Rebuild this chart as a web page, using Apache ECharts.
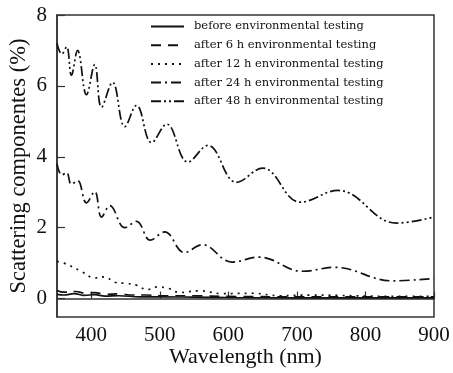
<!DOCTYPE html>
<html>
<head>
<meta charset="utf-8">
<script src="https://cdn.jsdelivr.net/npm/echarts@6/dist/echarts.min.js"></script>
<style>
  html, body { margin: 0; padding: 0; background: #fff; }
  #chart { width: 453px; height: 373px; }
</style>
</head>
<body>
<div id="chart"></div>
<script>
// Scattering components measured before and after environmental testing
const seriesNames = [
  'before environmental testing',
  'after 6 h environmental testing',
  'after 12 h environmental testing',
  'after 24 h environmental testing',
  'after 48 h environmental testing'
];

const wlBefore = [350, 360, 375, 390, 405, 420, 440, 470, 500, 550, 600, 700, 800, 900];
const valBefore = [0.12, 0.10, 0.14, 0.09, 0.11, 0.07, 0.08, 0.05, 0.05, 0.04, 0.03, 0.02, 0.02, 0.02];

const wl6h = [350, 360, 377, 392, 405, 420, 440, 460, 480, 500, 550, 600, 700, 800, 900];
const val6h = [0.23, 0.18, 0.20, 0.15, 0.17, 0.12, 0.13, 0.10, 0.10, 0.08, 0.08, 0.06, 0.05, 0.05, 0.05];

const wl12h = [350, 364, 386, 405, 420, 434, 449, 466, 481, 497, 512, 529, 558, 590, 635, 675, 720, 760, 800, 850, 900];
const val12h = [1.05, 0.97, 0.76, 0.58, 0.61, 0.46, 0.43, 0.38, 0.25, 0.33, 0.29, 0.17, 0.22, 0.14, 0.15, 0.08, 0.10, 0.09, 0.07, 0.06, 0.06];

const wl24h = [350, 357, 364, 371, 380, 393, 405, 415, 427, 449, 466, 486, 507, 536, 562, 605, 645, 708, 755, 840, 900];
const val24h = [3.80, 3.48, 3.56, 3.22, 3.33, 2.70, 3.02, 2.30, 2.62, 2.00, 2.18, 1.65, 1.88, 1.30, 1.52, 1.03, 1.17, 0.77, 0.88, 0.50, 0.57];

const wl48h = [350, 357, 364, 371, 380, 393, 405, 415, 431, 449, 466, 488, 510, 541, 570, 612, 650, 705, 760, 845, 900];
const val48h = [7.20, 6.90, 7.10, 6.30, 7.00, 5.75, 6.60, 5.40, 6.10, 4.85, 5.45, 4.40, 4.92, 3.85, 4.32, 3.28, 3.68, 2.72, 3.05, 2.13, 2.30];

const xTicks = [400, 500, 600, 700, 800, 900];
const yTicks = [0, 2, 4, 6, 8];

const dashPatterns = ['solid', [10, 7], [2, 5], [10, 4, 2, 4], [10, 3, 2, 3, 2, 3]];
const wlSets = [wlBefore, wl6h, wl12h, wl24h, wl48h];
const valSets = [valBefore, val6h, val12h, val24h, val48h];

const serif = 'Liberation Serif';
const legendFont = 'DejaVu Serif';
const ink = '#111';

const series = seriesNames.map((name, i) => ({
  name: name,
  type: 'line',
  symbol: 'none',
  smooth: 0.4,
  data: wlSets[i].map((w, k) => [w, valSets[i][k]]),
  lineStyle: { color: ink, width: 1.7, type: dashPatterns[i] },
  itemStyle: { color: ink }
}));

const chart = echarts.init(document.getElementById('chart'), null, { renderer: 'canvas' });
chart.setOption({
  backgroundColor: '#fff',
  animation: false,
  grid: {
    left: 57, right: 19, top: 15, bottom: 56,
    outerBoundsMode: 'none', containLabel: false,
    show: true, borderColor: '#333', borderWidth: 1.5, backgroundColor: 'transparent'
  },
  legend: {
    orient: 'vertical',
    left: 150, top: 19.5, padding: 0,
    itemWidth: 33, itemHeight: 14, itemGap: 4.7,
    itemStyle: { opacity: 0 },
    textStyle: { fontFamily: legendFont, fontSize: 11.5, lineHeight: 14, color: ink, padding: [0, 0, 0, 5] },
    data: seriesNames
  },
  xAxis: {
    type: 'value', min: 350, max: 900,
    name: 'Wavelength (nm)', nameLocation: 'middle', nameGap: 29, nameMoveOverlap: false,
    nameTextStyle: { fontFamily: serif, fontSize: 22, color: ink },
    axisLine: { show: true, lineStyle: { color: '#333', width: 1.5 } },
    axisTick: { show: true, inside: true, length: 7, customValues: xTicks, lineStyle: { color: '#333', width: 1.2 } },
    axisLabel: { customValues: xTicks, fontFamily: serif, fontSize: 21, color: ink, margin: 8 },
    splitLine: { show: false }
  },
  yAxis: {
    type: 'value', min: -0.52, max: 8,
    name: 'Scattering componentes (%)', nameLocation: 'middle', nameGap: 26, nameMoveOverlap: false,
    nameTextStyle: { fontFamily: serif, fontSize: 22.5, color: ink },
    axisLine: { show: true, lineStyle: { color: '#333', width: 1.5 } },
    axisTick: { show: true, inside: true, length: 8, customValues: yTicks, lineStyle: { color: '#333', width: 1.2 } },
    axisLabel: { customValues: yTicks, fontFamily: serif, fontSize: 21, color: ink, margin: 10 },
    splitLine: { show: false }
  },
  series: series
});
</script>
</body>
</html>
